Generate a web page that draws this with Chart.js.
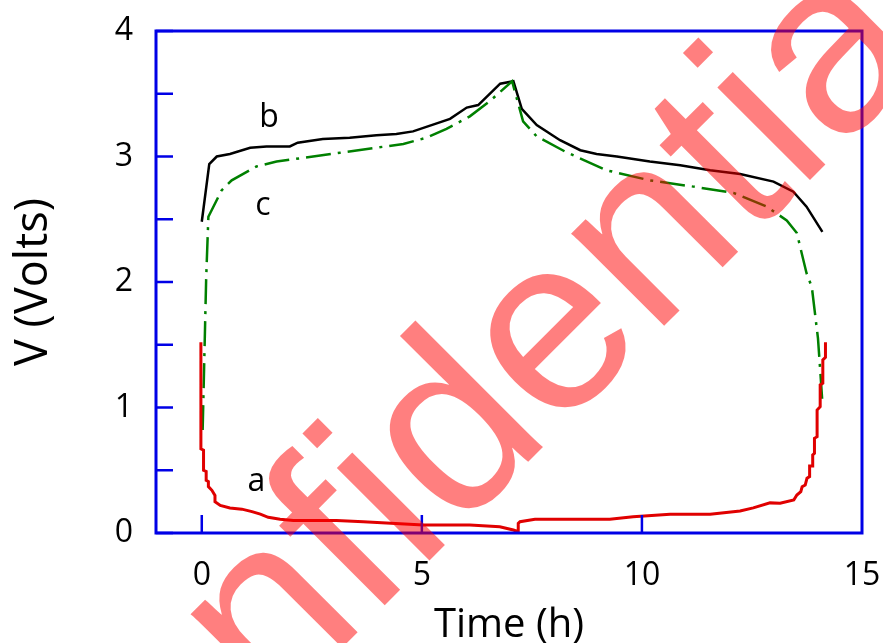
<!DOCTYPE html>
<html>
<head>
<meta charset="utf-8">
<script src="https://cdn.jsdelivr.net/npm/chart.js@4.4.1/dist/chart.umd.min.js"></script>
<style>
  body { margin: 0; background: #fff; }
</style>
</head>
<body>
<canvas id="voltageChart" width="883" height="643"></canvas>
<script>
// curve a (red, stepped)
const aTime = [-0.02, -0.02, 0.04, 0.04, 0.1, 0.1, 0.15, 0.15, 0.23, 0.3, 0.3, 0.42, 0.64, 0.91, 1.14, 1.33, 1.51, 1.78, 2.08, 3.06, 3.67, 5.03, 6.09, 6.77, 7.08, 7.19, 7.19, 7.23, 7.57, 9.27, 9.8, 10.64, 11.55, 12.23, 12.53, 12.91, 13.14, 13.45, 13.52, 13.61, 13.64, 13.71, 13.75, 13.81, 13.81, 13.88, 13.88, 13.92, 13.92, 13.98, 13.98, 14.05, 14.05, 14.11, 14.11, 14.17, 14.17];
const aVolts = [1.52, 0.67, 0.66, 0.5, 0.49, 0.42, 0.41, 0.37, 0.34, 0.3, 0.25, 0.22, 0.2, 0.19, 0.17, 0.15, 0.125, 0.11, 0.1, 0.1, 0.09, 0.064, 0.064, 0.05, 0.024, 0.01, 0.077, 0.09, 0.11, 0.11, 0.13, 0.15, 0.15, 0.175, 0.2, 0.24, 0.237, 0.263, 0.303, 0.329, 0.369, 0.382, 0.436, 0.449, 0.534, 0.534, 0.622, 0.635, 0.755, 0.767, 0.98, 1.006, 1.18, 1.193, 1.38, 1.4, 1.52];

// curve b (black, solid)
const bTime = [0.0, 0.17, 0.34, 0.64, 1.1, 1.47, 2.0, 2.18, 2.75, 3.36, 3.97, 4.42, 4.8, 5.64, 6.02, 6.28, 6.78, 7.08, 7.27, 7.61, 8.14, 8.6, 8.97, 9.43, 10.18, 10.87, 11.55, 12.23, 12.99, 13.44, 13.74, 14.1];
const bVolts = [2.48, 2.94, 3.0, 3.02, 3.07, 3.08, 3.08, 3.11, 3.14, 3.15, 3.17, 3.18, 3.2, 3.3, 3.39, 3.41, 3.58, 3.6, 3.38, 3.25, 3.13, 3.05, 3.02, 3.0, 2.96, 2.93, 2.89, 2.86, 2.8, 2.72, 2.6, 2.4];

// curve c (green, dash-dot)
const cTime = [0.02, 0.1, 0.15, 0.45, 0.68, 1.24, 1.7, 3.14, 4.58, 5.11, 5.56, 6.09, 6.54, 7.05, 7.3, 7.61, 8.25, 9.2, 10.18, 11.17, 12.08, 12.84, 13.29, 13.52, 13.74, 13.86, 14.0, 14.05, 14.1];
const cVolts = [0.82, 2.03, 2.52, 2.73, 2.81, 2.92, 2.96, 3.03, 3.1, 3.15, 3.22, 3.32, 3.44, 3.6, 3.28, 3.16, 3.04, 2.89, 2.81, 2.76, 2.71, 2.6, 2.49, 2.39, 2.07, 1.96, 1.55, 1.3, 1.04];

const xTicks = [0, 5, 10, 15];
const yTicks = [0, 0.5, 1, 1.5, 2, 2.5, 3, 3.5, 4];
const yLabels = [0, 1, 2, 3, 4];

// curve names and where they sit (data units)
const curveNames = ['a', 'b', 'c'];
const nameTime = [1.24, 1.53, 1.39];
const nameVolts = [0.41, 3.31, 2.61];

const toPoints = (xs, ys) => xs.map((x, i) => ({ x: x, y: ys[i] }));

const frameColor = '#0000e6';
const axisFont = "'Open Sans', 'DejaVu Sans', sans-serif";

// keep the plot box exactly where the layout padding puts it
const noScalePadding = scale => {
    scale.paddingTop = 0;
    scale.paddingBottom = 0;
    scale.paddingLeft = 0;
    scale.paddingRight = 0;
};

const framePlugin = {
    id: 'frame',
    afterDatasetsDraw(chart) {
        const { ctx, chartArea, scales } = chart;
        ctx.save();
        ctx.strokeStyle = frameColor;
        ctx.lineWidth = 3;
        ctx.strokeRect(chartArea.left, chartArea.top, chartArea.right - chartArea.left, chartArea.bottom - chartArea.top);
        ctx.lineWidth = 2.5;
        ctx.beginPath();
        yTicks.forEach(v => {
            const py = scales.y.getPixelForValue(v);
            ctx.moveTo(chartArea.left, py);
            ctx.lineTo(chartArea.left + 17, py);
        });
        xTicks.slice(0, 3).forEach(v => {
            const px = scales.x.getPixelForValue(v);
            ctx.moveTo(px, chartArea.bottom);
            ctx.lineTo(px, chartArea.bottom - 18);
        });
        ctx.stroke();

        // curve names
        ctx.fillStyle = '#000';
        ctx.font = "32px " + axisFont;
        ctx.textAlign = 'center';
        ctx.textBaseline = 'middle';
        curveNames.forEach((n, i) => {
            ctx.fillText(n, scales.x.getPixelForValue(nameTime[i]), scales.y.getPixelForValue(nameVolts[i]));
        });
        ctx.restore();
    },
    afterDraw(chart) {
        // watermark
        const { ctx } = chart;
        ctx.save();
        ctx.translate(530, 460);
        ctx.rotate(-45 * Math.PI / 180);
        ctx.font = "248px 'Liberation Sans', Arial, sans-serif";
        ctx.fillStyle = 'rgba(255, 0, 0, 0.5)';
        ctx.textAlign = 'center';
        ctx.textBaseline = 'alphabetic';
        ctx.fillText('confidential', 0, 0);
        ctx.restore();
    }
};

new Chart(document.getElementById('voltageChart'), {
    type: 'scatter',
    data: {
        datasets: [
            {
                label: 'a',
                data: toPoints(aTime, aVolts),
                showLine: true,
                borderColor: '#e00000',
                borderWidth: 3,
                pointRadius: 0
            },
            {
                label: 'c',
                data: toPoints(cTime, cVolts),
                showLine: true,
                borderColor: '#008000',
                borderWidth: 2.5,
                borderDash: [25, 7, 3, 7],
                pointRadius: 0
            },
            {
                label: 'b',
                data: toPoints(bTime, bVolts),
                showLine: true,
                borderColor: '#000000',
                borderWidth: 2.5,
                pointRadius: 0
            }
        ]
    },
    options: {
        responsive: false,
        animation: false,
        layout: { padding: { top: 31, right: 21, left: 0, bottom: 0 } },
        plugins: {
            legend: { display: false },
            tooltip: { enabled: false }
        },
        scales: {
            x: {
                type: 'linear',
                min: -1.04,
                max: 15,
                grid: { display: false, drawTicks: false },
                border: { display: false },
                afterBuildTicks: scale => { scale.ticks = xTicks.map(v => ({ value: v })); },
                afterFit: scale => { scale.height = 110; noScalePadding(scale); },
                ticks: {
                    color: '#000',
                    padding: 24,
                    maxRotation: 0,
                    font: { family: axisFont, size: 32 }
                },
                title: {
                    display: true,
                    text: 'Time (h)',
                    color: '#000',
                    padding: { top: 0, bottom: -7 },
                    font: { family: axisFont, size: 40 }
                }
            },
            y: {
                type: 'linear',
                min: 0,
                max: 4,
                grid: { display: false, drawTicks: false },
                border: { display: false },
                afterBuildTicks: scale => { scale.ticks = yLabels.map(v => ({ value: v })); },
                afterFit: scale => { scale.width = 156; noScalePadding(scale); },
                ticks: {
                    color: '#000',
                    padding: 23,
                    font: { family: axisFont, size: 32 }
                },
                title: {
                    display: true,
                    text: 'V (Volts)',
                    color: '#000',
                    padding: { top: 7, bottom: 0 },
                    font: { family: axisFont, size: 45 }
                }
            }
        }
    },
    plugins: [framePlugin]
});
</script>
</body>
</html>
